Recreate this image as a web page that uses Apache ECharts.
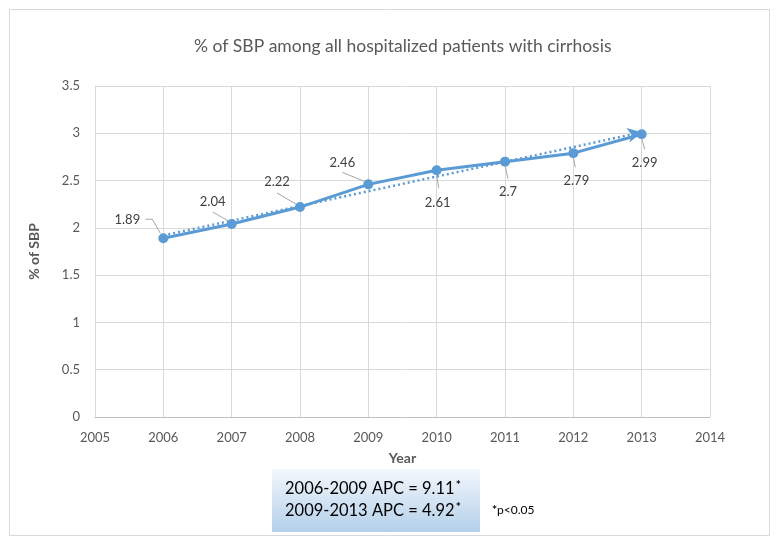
<!DOCTYPE html>
<html>
<head>
<meta charset="utf-8">
<script src="https://cdn.jsdelivr.net/npm/echarts@6/dist/echarts.min.js"></script>
<style>
html,body{margin:0;padding:0;background:#fff;}
#c{width:782px;height:545px;}
</style>
</head>
<body>
<div id="c"></div>
<script>
// ---- data ----
const years = [2006, 2007, 2008, 2009, 2010, 2011, 2012, 2013];
const sbpPercent = [1.89, 2.04, 2.22, 2.46, 2.61, 2.7, 2.79, 2.99];
const trendStart = [2006, 1.92];
const trendEnd = [2013, 3.01];
const xTicks = [2005, 2006, 2007, 2008, 2009, 2010, 2011, 2012, 2013, 2014];
const yTicks = [0, 0.5, 1, 1.5, 2, 2.5, 3, 3.5];
const titleText = '% of SBP among all hospitalized patients with cirrhosis';
const apcLines = ['2006-2009 APC = 9.11', '2009-2013 APC = 4.92'];
const footnote = '*p<0.05';

// ---- label layout (offsets relative to each point, in px) ----
const labelLayouts = [
  {dx: -36, dy: -18, line: [[-18, -19], [-11, -19], [-3, -5]]},
  {dx: -19, dy: -22, line: [[-19, -12], [-3, -3]]},
  {dx: -23, dy: -25, line: [[-23, -14], [-4, -3]]},
  {dx: -26, dy: -22, line: [[-26, -12], [-4, -3]]},
  {dx: 1, dy: 33, line: [[0, 5], [2, 18]]},
  {dx: 3, dy: 30, line: [[0, 4], [3, 17]]},
  {dx: 3, dy: 28, line: [[0, 4], [2, 14]]},
  {dx: 3, dy: 29, line: [[0, 4], [3, 15]]}
];

const FONT = 'Lato, "Open Sans", sans-serif';
const lineData = years.map((y, i) => [y, sbpPercent[i]]);

const chart = echarts.init(document.getElementById('c'));
chart.setOption({
  backgroundColor: '#fff',
  animation: false,
  title: {
    text: titleText,
    left: 189,
    top: 32,
    textStyle: {fontFamily: FONT, fontSize: 17.5, fontWeight: 'normal', color: '#595959'}
  },
  grid: {left: 95, top: 86, right: 72, bottom: 128},
  xAxis: {
    type: 'value',
    min: xTicks[0],
    max: xTicks[xTicks.length - 1],
    interval: 1,
    name: 'Year',
    nameLocation: 'middle',
    nameGap: 34,
    nameTextStyle: {fontFamily: FONT, fontSize: 14, fontWeight: 'bold', color: '#595959'},
    axisLine: {show: true, lineStyle: {color: '#bfbfbf', width: 1}},
    axisTick: {show: false},
    axisLabel: {fontFamily: FONT, fontSize: 13, color: '#595959', margin: 14, formatter: v => String(v)},
    splitLine: {show: true, lineStyle: {color: '#d9d9d9', width: 1}}
  },
  yAxis: {
    type: 'value',
    min: yTicks[0],
    max: yTicks[yTicks.length - 1],
    interval: 0.5,
    name: '% of SBP',
    nameLocation: 'middle',
    nameGap: 54,
    nameRotate: 90,
    nameTextStyle: {fontFamily: FONT, fontSize: 14, fontWeight: 'bold', color: '#595959'},
    axisLine: {show: false},
    axisTick: {show: false},
    axisLabel: {fontFamily: FONT, fontSize: 13, color: '#595959', margin: 15},
    splitLine: {show: true, lineStyle: {color: '#d9d9d9', width: 1}}
  },
  graphic: [
    {
      type: 'rect', z: -10, silent: true,
      shape: {x: 9.5, y: 9.5, width: 760, height: 526},
      style: {fill: 'none', stroke: '#d9d9d9', lineWidth: 1}
    },
    {
      type: 'rect', silent: true,
      shape: {x: 272, y: 469, width: 208, height: 63},
      style: {
        fill: new echarts.graphic.LinearGradient(0, 0, 0, 1, [
          {offset: 0, color: '#f3f7fc'},
          {offset: 1, color: '#b4d0ea'}
        ])
      }
    },
    {
      type: 'text', silent: true, left: 285, top: 479,
      style: {
        text: '{a|' + apcLines[0] + '}{s|*}\n{a|' + apcLines[1] + '}{s|*}',
        rich: {
          a: {fontFamily: FONT, fontSize: 16.5, color: '#000', lineHeight: 22},
          s: {fontFamily: FONT, fontSize: 12, fontWeight: 'bold', color: '#000', lineHeight: 22, padding: [0, 0, 8, 1]}
        }
      }
    },
    {
      type: 'text', silent: true, left: 492, top: 504,
      style: {
        text: '{s|*}{a|' + footnote.slice(1) + '}',
        rich: {
          a: {fontFamily: FONT, fontSize: 12, color: '#000'},
          s: {fontFamily: FONT, fontSize: 12, fontWeight: 'bold', color: '#000'}
        }
      }
    }
  ],
  series: [
    {
      name: 'trend',
      type: 'line',
      data: [trendStart, trendEnd],
      symbol: 'none',
      lineStyle: {opacity: 0, width: 0},
      z: 3,
      markLine: {
        silent: true,
        animation: false,
        symbol: ['none', 'arrow'],
        symbolSize: [11, 14],
        label: {show: false},
        lineStyle: {color: '#5b9bd5', width: 2.5, type: [2, 3]},
        data: [[{coord: trendStart}, {coord: trendEnd}]]
      }
    },
    {
      name: 'sbp',
      type: 'line',
      data: lineData,
      symbol: 'circle',
      symbolSize: 10,
      lineStyle: {color: '#5b9bd5', width: 3},
      itemStyle: {color: '#5b9bd5'},
      z: 4
    },
    {
      name: 'labels',
      type: 'custom',
      data: lineData,
      z: 5,
      silent: true,
      renderItem: function (params, api) {
        const v = [api.value(0), api.value(1)];
        const p = api.coord(v);
        const o = labelLayouts[params.dataIndex];
        return {
          type: 'group',
          children: [
            {
              type: 'polyline',
              shape: {points: o.line.map(q => [p[0] + q[0], p[1] + q[1]])},
              style: {stroke: '#a6a6a6', lineWidth: 1, fill: null}
            },
            {
              type: 'text',
              x: p[0] + o.dx,
              y: p[1] + o.dy,
              style: {
                text: String(sbpPercent[params.dataIndex]),
                align: 'center', verticalAlign: 'middle',
                fontFamily: FONT, fontSize: 13, fill: '#404040'
              }
            }
          ]
        };
      }
    }
  ]
});
</script>
</body>
</html>
